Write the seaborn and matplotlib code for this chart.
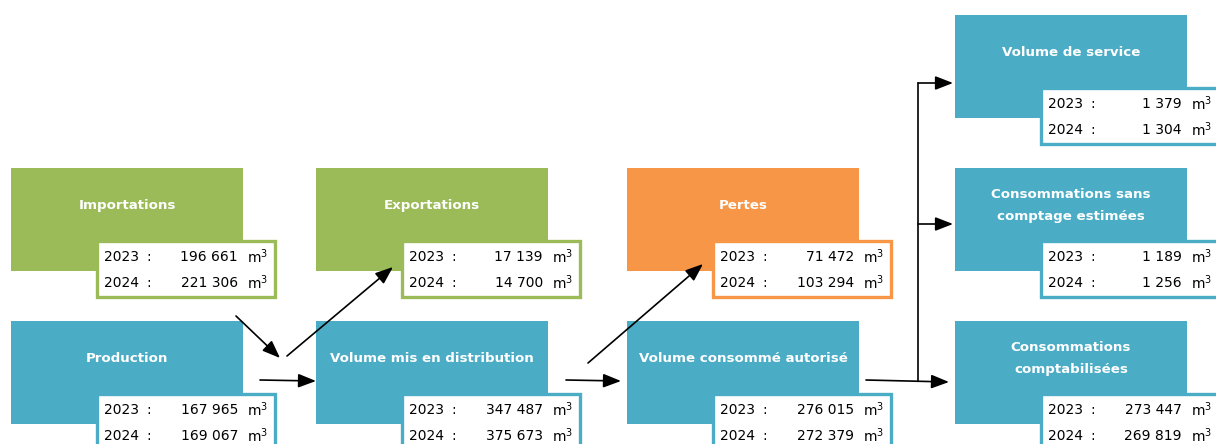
import matplotlib
matplotlib.use("Agg")
import matplotlib.pyplot as plt
from matplotlib.patches import Rectangle
import seaborn as sns

sns.set_theme(style="white")
plt.rcParams['font.family'] = ['DejaVu Sans']

# ---- data ----
labels = ["Importations", "Production", "Exportations", "Volume mis en distribution",
          "Pertes", "Volume consommé autorisé", "Volume de service",
          "Consommations sans\ncomptage estimées", "Consommations\ncomptabilisées"]
years = ["2023", "2024"]
v2023 = [196661, 167965, 17139, 347487, 71472, 276015, 1379, 1189, 273447]
v2024 = [221306, 169067, 14700, 375673, 103294, 272379, 1304, 1256, 269819]
kinds = ["in", "main", "in", "main", "loss", "main", "main", "main", "main"]

# ---- layout (pixel space) ----
box_left = [11, 11, 316, 316, 627, 627, 955, 955, 955]
box_top = [168, 321, 168, 321, 168, 321, 15, 168, 321]
BW, BH = 232, 103
VDX, VDY, VW, VH = 86, 73, 178, 56

palette = {"main": "#4BACC6", "in": "#9BBB59", "loss": "#F79646"}

fig = plt.figure(figsize=(12.16, 4.44), dpi=100)
ax = fig.add_axes([0, 0, 1, 1])
ax.set_xlim(0, 1216)
ax.set_ylim(444, 0)
ax.axis("off")

fmt = lambda v: f"{v:,}".replace(",", " ")

for lab, a, b, k, x, y in zip(labels, v2023, v2024, kinds, box_left, box_top):
    col = palette[k]
    ax.add_patch(Rectangle((x, y), BW, BH, facecolor=col, edgecolor="none", zorder=1))
    ax.text(x + BW / 2, y + 37, lab, ha="center", va="center", color="white",
            fontsize=9.6, fontweight="bold", linespacing=1.9, zorder=2)
    vx, vy = x + VDX, y + VDY
    ax.add_patch(Rectangle((vx, vy), VW, VH, facecolor="white", edgecolor=col,
                           linewidth=2.4, zorder=3))
    for yr, val, dy in zip(years, (a, b), (16, 42)):
        ax.text(vx + 7, vy + dy, yr, ha="left", va="center", fontsize=10,
                color="black", zorder=4)
        ax.text(vx + 49, vy + dy, ":", ha="left", va="center", fontsize=10,
                color="black", zorder=4)
        ax.text(vx + 141, vy + dy, fmt(val), ha="right", va="center", fontsize=10,
                color="black", zorder=4)
        ax.text(vx + 150, vy + dy, "m$^{3}$", ha="left", va="center", fontsize=10,
                color="black", zorder=4)

arrows = [((236, 316), (280, 358)),
          ((287, 356), (393, 267)),
          ((260, 380), (316, 381)),
          ((566, 380), (621, 381)),
          ((588, 363), (703, 264)),
          ((866, 380), (949, 382)),
          ((918, 83), (953, 83)),
          ((918, 224), (953, 224))]
for (x0, y0), (x1, y1) in arrows:
    ax.annotate("", xy=(x1, y1), xytext=(x0, y0),
                arrowprops=dict(arrowstyle="-|>,head_length=0.9,head_width=0.35",
                                color="black", lw=1.2, shrinkA=0, shrinkB=0),
                zorder=5)
ax.plot([918, 918], [381, 83], color="black", lw=1.2, zorder=5)

fig.savefig("out.png", dpi=100)
